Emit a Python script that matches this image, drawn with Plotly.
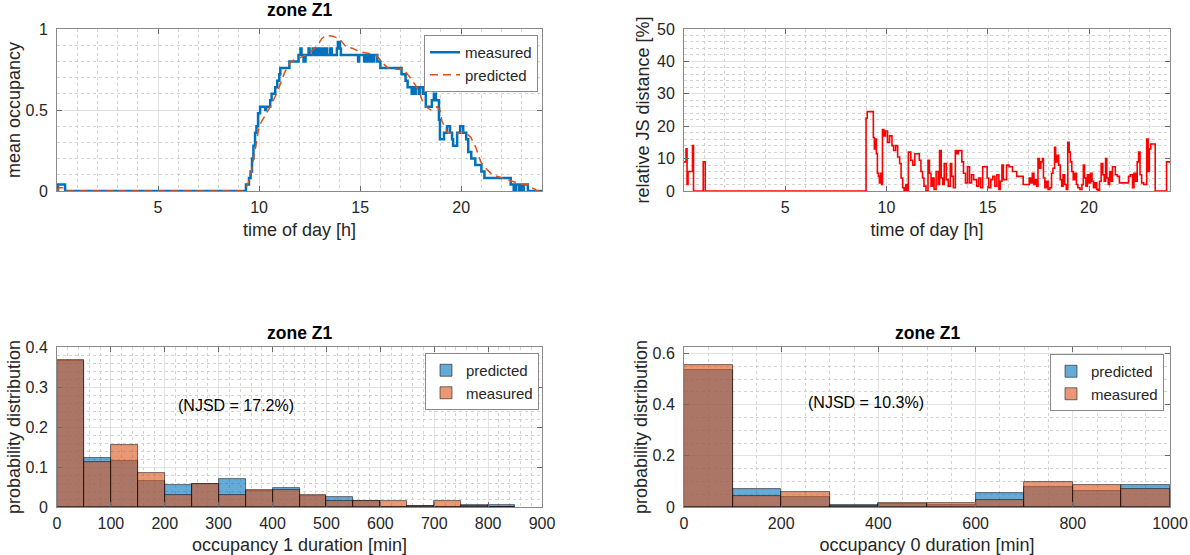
import plotly.graph_objects as go

# ---------------- data ----------------
# mean occupancy, measured (step series)
meas_time = [0.0, 0.05, 0.4, 9.35, 9.5, 9.58, 9.65, 9.72, 9.8, 9.87, 9.95, 10.05, 10.3, 10.35,
             10.55, 10.62, 10.8, 10.9, 11.0, 11.05, 11.5, 11.95, 12.05, 12.1, 12.2, 12.3, 12.45,
             12.5, 12.65, 12.75, 12.85, 12.95, 13.05, 13.15, 13.25, 13.35, 13.5, 13.6, 13.85,
             13.9, 14.0, 14.05, 14.9, 14.95, 15.2, 15.25, 15.35, 15.4, 15.5, 15.55, 15.65, 15.7,
             15.85, 16.0, 17.05, 17.25, 17.35, 17.55, 17.6, 17.7, 17.75, 17.9, 17.95, 18.1, 18.15,
             18.25, 18.55, 18.65, 18.75, 18.9, 18.95, 19.15, 19.3, 19.45, 19.55, 19.6, 19.8,
             19.95, 20.1, 20.25, 20.35, 20.5, 20.7, 21.0, 21.15, 22.45, 22.6, 22.7, 22.85, 22.95,
             23.05, 23.1, 23.3, 24.0]
meas_value = [0.0, 0.04, 0.0, 0.04, 0.08, 0.12, 0.2, 0.28, 0.36, 0.4, 0.48, 0.52, 0.5, 0.52,
              0.56, 0.6, 0.64, 0.68, 0.72, 0.76, 0.8, 0.84, 0.88, 0.84, 0.8, 0.84, 0.88,
              0.84, 0.88, 0.84, 0.88, 0.84, 0.88, 0.84, 0.88, 0.84, 0.88, 0.84, 0.88,
              0.92, 0.88, 0.84, 0.8, 0.84, 0.8, 0.84, 0.8, 0.84, 0.8, 0.84, 0.8, 0.84,
              0.8, 0.76, 0.72, 0.68, 0.64, 0.6, 0.64, 0.6, 0.64, 0.6, 0.64, 0.6, 0.64,
              0.52, 0.56, 0.6, 0.56, 0.44, 0.32, 0.36, 0.4, 0.36, 0.32, 0.28, 0.36,
              0.4, 0.36, 0.32, 0.24, 0.2, 0.16, 0.12, 0.08, 0.04, 0.0, 0.04, 0.0, 0.04,
              0.0, 0.04, 0.0, 0.0]

# mean occupancy, predicted
pred_time = [0.0, 0.1, 0.35, 0.45, 9.2, 9.35, 9.5, 9.65, 9.8, 10.0, 10.27, 10.6, 10.93, 11.26,
             11.51, 11.75, 12.0, 12.49, 12.9, 13.1, 13.3, 13.65, 13.98, 14.15, 14.3, 14.64,
             14.96, 15.37, 15.79, 16.12, 16.36, 16.94, 17.1, 17.35, 17.6, 17.9, 18.1, 18.26,
             18.5, 18.8, 18.95, 19.05, 19.33, 19.73, 20.15, 20.48, 20.72, 20.97, 21.22, 21.55,
             22.04, 22.53, 23.03, 23.36, 23.5, 23.66, 23.75, 24.0]
pred_value = [0.0, 0.02, 0.02, 0.0, 0.0, 0.02, 0.06, 0.14, 0.25, 0.4, 0.46, 0.53, 0.62, 0.73,
              0.79, 0.81, 0.82, 0.85, 0.9, 0.94, 0.96, 0.955, 0.94, 0.91, 0.89, 0.88,
              0.86, 0.85, 0.84, 0.79, 0.76, 0.75, 0.76, 0.72, 0.68, 0.62, 0.55, 0.52,
              0.5, 0.52, 0.5, 0.43, 0.36, 0.35, 0.37, 0.33, 0.27, 0.18, 0.14, 0.1,
              0.08, 0.06, 0.04, 0.04, 0.02, 0.01, 0.0, 0.0]

# relative JS distance [%]
js_time = [0.0, 0.1, 0.15, 0.2, 0.42, 0.47, 0.95, 1.05,
           8.99, 9.05, 9.35, 9.4, 9.45, 9.5, 9.55, 9.6, 9.65, 9.7, 9.76,
           9.8, 9.87, 9.95, 10.05, 10.15, 10.27, 10.35, 10.45, 10.55, 10.65, 10.72, 10.8,
           10.87, 10.95, 11.02, 11.08, 11.2, 11.3, 11.4, 11.62, 11.7, 11.78, 11.85, 11.95,
           12.05, 12.12, 12.2, 12.27, 12.35, 12.45, 12.55, 12.62, 12.7, 12.78, 12.85, 12.95,
           13.05, 13.15, 13.22, 13.3, 13.4, 13.48, 13.55, 13.72, 13.8, 13.9, 14.0, 14.1,
           14.2, 14.3, 14.45, 14.55, 14.65, 14.75, 14.97, 15.05, 15.15, 15.25, 15.35, 15.45,
           15.55, 15.62, 15.7, 15.77, 15.93, 16.05, 16.22, 16.43, 16.75, 17.05, 17.12, 17.2,
           17.28, 17.35, 17.42, 17.48, 17.55, 17.62, 17.7, 17.75, 17.82, 17.9, 17.98, 18.07,
           18.15, 18.22, 18.3, 18.35, 18.42, 18.5, 18.58, 18.65, 18.72, 18.8, 18.88, 18.95,
           19.02, 19.08, 19.15, 19.22, 19.3, 19.38, 19.45, 19.55, 19.65, 19.72, 19.78, 19.85,
           19.92, 20.0, 20.08, 20.15, 20.22, 20.3, 20.38, 20.45, 20.52, 20.6, 20.68, 20.75,
           20.82, 20.88, 20.95, 21.02, 21.1, 21.16, 21.3, 21.4, 21.5, 21.95, 22.05, 22.15,
           22.22, 22.3, 22.38, 22.45, 22.52, 22.6, 22.7, 22.85, 22.92, 22.98, 23.05, 23.27,
           23.83, 24.0]
js_value = [9, 13, 2, 6, 14, 0, 9, 0,
            22.5, 24.5, 16.5, 13, 16, 11.5, 5.5, 4.5, 2.5, 5.5, 2,
            19, 17, 18.5, 15, 17, 14, 12.5, 14, 10.5, 8.5, 4, 1,
            0, 2, 0, 12, 9.5, 8, 11.5, 9.5, 6, 4, 1.5, 0,
            9.5, 5.5, 1.5, 4, 0.5, 6, 2, 12.5, 4, 2, 8.5, 3.5,
            1.5, 8.5, 4.5, 1, 12.5, 11.5, 12.5, 9, 5.5, 2.5, 7.5, 2.5,
            5, 3.5, 1.5, 4, 1, 7.5, 4, 1, 3.5, 4.5, 1.5, 5,
            0.5, 3, 8, 3.5, 8, 7.5, 6, 4.5, 2, 4, 2.5, 5.5,
            2, 3.5, 1.5, 10, 7, 9, 10, 4, 1, 3, 0.5, 1,
            5.5, 7, 13.5, 9, 11, 8, 3.5, 1.5, 5, 2, 0.5, 15,
            12, 9, 6, 3.5, 5.5, 2, 1, 0.5, 2, 8, 4, 1.5,
            5, 2.5, 5.5, 3, 1, 2.5, 0.5, 0, 3, 8.5, 5, 3,
            10, 4, 2, 6, 3, 7.5, 5, 4.5, 2.5, 4.5, 5, 1,
            5.5, 3, 9, 12, 5, 2.5, 2, 16, 6, 13, 14.5, 0,
            9, 9]

# histogram: occupancy 1 duration [min]
occ1_edges = [0, 50, 100, 150, 200, 250, 300, 350, 400, 450, 500, 550, 600, 650, 700, 750, 800, 850]
occ1_pred = [0.365, 0.123, 0.116, 0.066, 0.056, 0.058, 0.070, 0.039, 0.047, 0.027, 0.026, 0.0145,
             0.0, 0.002, 0.0, 0.004, 0.005]
occ1_meas = [0.367, 0.112, 0.155, 0.085, 0.029, 0.057, 0.029, 0.0435, 0.0435, 0.029, 0.015, 0.0145,
             0.0145, 0.002, 0.0145, 0.002, 0.0]

# histogram: occupancy 0 duration [min]
occ0_edges = [0, 100, 200, 300, 400, 500, 600, 700, 800, 900, 1000]
occ0_pred = [0.536, 0.071, 0.039, 0.009, 0.010, 0.009, 0.055, 0.077, 0.062, 0.086]
occ0_meas = [0.553, 0.042, 0.059, 0.003, 0.014, 0.014, 0.028, 0.099, 0.086, 0.071]

njsd_labels = ["(NJSD = 17.2%)", "(NJSD = 10.3%)"]

# ---------------- styling ----------------
FONT = "Liberation Sans, Arial, Helvetica, sans-serif"
DARK = "#262626"
BLUE = "#0072BD"
ORANGE = "#D95319"
W, H = 1190, 555


def centers(edges):
    return [(a + b) / 2 for a, b in zip(edges[:-1], edges[1:])]


def widths(edges):
    return [b - a for a, b in zip(edges[:-1], edges[1:])]


def axis(domain, rng, dtick=None, tickvals=None, minor_dtick=None, title=None, standoff=4,
         is_x=True):
    d = dict(
        domain=domain, range=rng, showline=True, linecolor="#8a8a8a", linewidth=1,
        mirror="ticks", ticks="inside", ticklen=5, tickcolor="#6a6a6a", tickwidth=1,
        showgrid=True, gridcolor="#e2e2e2", gridwidth=1, zeroline=False,
        tickfont=dict(family=FONT, size=16, color=DARK),
        minor=dict(showgrid=True, gridcolor="#d2d2d2", griddash="dot", gridwidth=1,
                   dtick=minor_dtick, ticks=""),
        title=dict(text=title, font=dict(family=FONT, size=18, color=DARK), standoff=standoff),
        fixedrange=True, automargin=False,
        ticklabelstandoff=2 if is_x else 5,
    )
    if dtick is not None:
        d["dtick"] = dtick
        d["tick0"] = 0
    if tickvals is not None:
        d["tickvals"] = tickvals
    if minor_dtick is not None:
        d["minor"]["tick0"] = 0
    return d


# domains from pixel geometry
def px_x(a, b):
    return [a / W, b / W]


def px_y(top, bottom):
    return [1 - bottom / H, 1 - top / H]


left_x = px_x(57, 542)
right_x = px_x(684, 1170)
top_y = px_y(29, 191)
bot_y = px_y(347, 507)

fig = go.Figure()

# top-left: mean occupancy
fig.add_trace(go.Scatter(x=meas_time, y=meas_value, mode="lines", name="measured",
                         line=dict(color=BLUE, width=2.5, shape="hv"),
                         xaxis="x", yaxis="y", legend="legend"))
fig.add_trace(go.Scatter(x=pred_time, y=pred_value, mode="lines", name="predicted",
                         line=dict(color=ORANGE, width=1.5, dash="8px,5px"),
                         xaxis="x", yaxis="y", legend="legend"))

# top-right: JS distance
fig.add_trace(go.Scatter(x=js_time, y=js_value, mode="lines", name="JS", showlegend=False,
                         line=dict(color="#FF0000", width=1.6, shape="hv"),
                         xaxis="x2", yaxis="y2"))

# bottom-left histogram
bar_line = dict(color="rgba(0,0,0,0.65)", width=0.8)
fig.add_trace(go.Bar(x=centers(occ1_edges), y=occ1_pred, width=widths(occ1_edges),
                     name="predicted", marker=dict(color="rgba(0,114,189,0.6)", line=bar_line),
                     xaxis="x3", yaxis="y3", legend="legend2"))
fig.add_trace(go.Bar(x=centers(occ1_edges), y=occ1_meas, width=widths(occ1_edges),
                     name="measured", marker=dict(color="rgba(217,83,25,0.6)", line=bar_line),
                     xaxis="x3", yaxis="y3", legend="legend2"))

# bottom-right histogram
fig.add_trace(go.Bar(x=centers(occ0_edges), y=occ0_pred, width=widths(occ0_edges),
                     name="predicted", marker=dict(color="rgba(0,114,189,0.6)", line=bar_line),
                     xaxis="x4", yaxis="y4", legend="legend3"))
fig.add_trace(go.Bar(x=centers(occ0_edges), y=occ0_meas, width=widths(occ0_edges),
                     name="measured", marker=dict(color="rgba(217,83,25,0.6)", line=bar_line),
                     xaxis="x4", yaxis="y4", legend="legend3"))

legend_style = dict(bgcolor="white", bordercolor="#8a8a8a", borderwidth=1,
                    font=dict(family=FONT, size=15, color=DARK), xanchor="left", yanchor="top",
                    tracegroupgap=0, itemwidth=30)

fig.update_layout(
    width=W, height=H,
    template="none",
    paper_bgcolor="white", plot_bgcolor="white",
    margin=dict(l=0, r=0, t=0, b=0),
    barmode="overlay", bargap=0,
    font=dict(family=FONT, size=16, color=DARK),
    xaxis=axis(left_x, [0, 24], tickvals=[5, 10, 15, 20], minor_dtick=1,
               title="time of day [h]", standoff=8),
    yaxis=axis(top_y, [0, 1], tickvals=[0, 0.5, 1], minor_dtick=0.1,
               title="mean occupancy", standoff=0, is_x=False),
    xaxis2=axis(right_x, [0, 24], tickvals=[5, 10, 15, 20], minor_dtick=1,
                title="time of day [h]", standoff=8),
    yaxis2=axis(top_y, [0, 50], dtick=10, minor_dtick=2,
                title="relative JS distance [%]", standoff=2, is_x=False),
    xaxis3=axis(left_x, [0, 900], dtick=100, minor_dtick=20,
                title="occupancy 1 duration [min]", standoff=8),
    yaxis3=axis(bot_y, [0, 0.4], dtick=0.1, minor_dtick=0.02,
                title="probability distribution", standoff=0, is_x=False),
    xaxis4=axis(right_x, [0, 1000], dtick=200, minor_dtick=50,
                title="occupancy 0 duration [min]", standoff=8),
    yaxis4=axis(bot_y, [0, 0.625], dtick=0.2, minor_dtick=0.05,
                title="probability distribution", standoff=0, is_x=False),
    legend=dict(legend_style, x=424 / W, y=1 - 35 / H),
    legend2=dict(legend_style, x=425 / W, y=1 - 353 / H),
    legend3=dict(legend_style, x=1050 / W, y=1 - 354 / H),
    showlegend=True,
)

# anchor axes
fig.layout.xaxis.anchor = "y"
fig.layout.yaxis.anchor = "x"
fig.layout.xaxis2.anchor = "y2"
fig.layout.yaxis2.anchor = "x2"
fig.layout.xaxis3.anchor = "y3"
fig.layout.yaxis3.anchor = "x3"
fig.layout.xaxis4.anchor = "y4"
fig.layout.yaxis4.anchor = "x4"

title_font = dict(family=FONT, size=17.5, color="black")
for xc, yc in [((57 + 542) / 2, 10), ((57 + 542) / 2, 333), ((684 + 1170) / 2, 333)]:
    fig.add_annotation(text="<b>zone Z1</b>", x=xc / W, y=1 - yc / H, xref="paper", yref="paper",
                       xanchor="center", yanchor="middle", showarrow=False, font=title_font)

fig.add_annotation(text=njsd_labels[0], x=220, y=0.255, xref="x3", yref="y3",
                   xanchor="left", yanchor="middle", showarrow=False,
                   font=dict(family=FONT, size=16, color="black"))
fig.add_annotation(text=njsd_labels[1], x=250, y=0.41, xref="x4", yref="y4",
                   xanchor="left", yanchor="middle", showarrow=False,
                   font=dict(family=FONT, size=16, color="black"))

fig.write_html("out.html")
